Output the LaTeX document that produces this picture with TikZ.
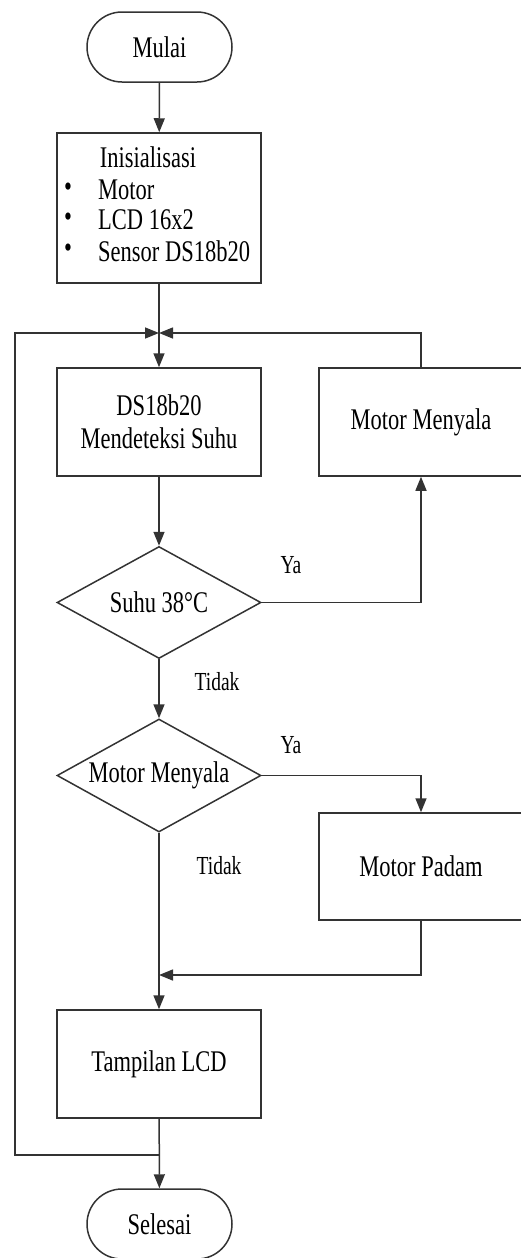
\documentclass[tikz,border=0pt]{standalone}
\usepackage{fontspec}
\setmainfont{Liberation Serif}[FakeStretch=0.75]
\usetikzlibrary{shapes.geometric,shapes.misc,arrows.meta}
\begin{document}
\begin{tikzpicture}[x=1pt,y=-1pt,
  every node/.style={font=\fontsize{30}{33}\selectfont, text=black},
  ln/.style={draw=black!80, line width=1.5pt},
  arr/.style={ln, -{Triangle[width=11pt,length=14pt]}},
  proc/.style={ln, rectangle, minimum width=204pt, minimum height=108pt, inner sep=0pt},
  term/.style={ln, rounded rectangle, minimum width=145pt, minimum height=70pt, inner sep=0pt},
  dia/.style={ln, diamond, minimum width=204pt, minimum height=112pt, inner sep=0pt},
  lbl/.style={font=\fontsize{26}{28}\selectfont},
  item/.style={anchor=west, inner sep=0pt}]
\useasboundingbox (0,0) rectangle (521,1258);
% nodes
\node[term] (mulai) at (159.5,47) {Mulai};
\node[proc, minimum height=150pt] (init) at (159,208) {};
\node (initT) at (148,157) {Inisialisasi};
\node (b1) at (68,190) {•};
\node (b2) at (68,220) {•};
\node (b3) at (68,251) {•};
\node[item] (i1) at (98,190) {Motor};
\node[item] (i2) at (98,220) {LCD 16x2};
\node[item] (i3) at (98,251) {Sensor DS18b20};
\node[proc, align=center] (ds) at (159,422) {DS18b20\\Mendeteksi Suhu};
\node[proc] (mm) at (421,422) {Motor Menyala};
\node[dia, label={center:Suhu 38°C}] (d1) at (159,602.5) {};
\node[dia, minimum height=113pt, label={center:Motor Menyala}] (d2) at (159,775.5) {};
\node[proc, minimum height=107pt] (mp) at (421,866.5) {Motor Padam};
\node[proc] (lcd) at (159,1064) {Tampilan LCD};
\node[term] (selesai) at (159.5,1224) {Selesai};
% labels
\node[lbl] (ya1) at (291,565) {Ya};
\node[lbl] (td1) at (217,682) {Tidak};
\node[lbl] (ya2) at (291,745) {Ya};
\node[lbl] (td2) at (219,866) {Tidak};
% junctions
\coordinate (j1) at (159,333);
\coordinate (j2) at (159,975);
\coordinate (j3) at (159,1155);
\coordinate (lx) at (15,0);
% connectors
\draw[arr] (mulai) -- (init);
\draw[arr] (init) -- (ds);
\draw[arr] (ds) -- (d1);
\draw[arr] (d1.east) -| (mm.south);
\draw[arr] (mm.north) |- (j1);
\draw[arr] (d1.south) -- (d2.north);
\draw[arr] (d2.east) -| (mp.north);
\draw[arr] (d2.south) -- (lcd.north);
\draw[arr] (mp.south) |- (j2);
\draw[arr] (lcd) -- (selesai);
\draw[arr] (j3) -- (lx |- j3) -- (lx |- j1) -- (j1);
\end{tikzpicture}
\end{document}
